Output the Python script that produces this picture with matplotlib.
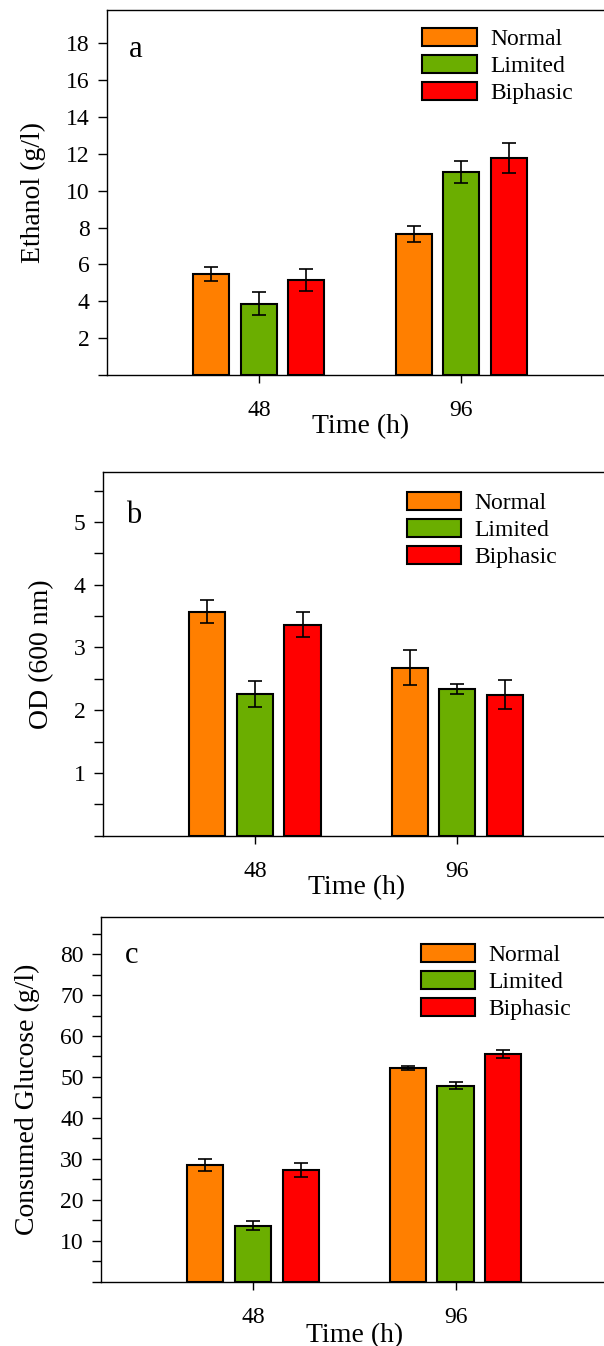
import matplotlib
matplotlib.use('Agg')
import numpy as np
import matplotlib.pyplot as plt
from matplotlib.ticker import MultipleLocator

matplotlib.rcParams.update({'font.family': 'Liberation Serif', 'font.size': 17})

# data
times = ['48', '96']
groups = ['Normal', 'Limited', 'Biphasic']
colors = ['#FF7F00', '#6BAE00', '#FF0000']

ethanol = [[5.50, 7.65], [3.87, 11.02], [5.17, 11.77]]
ethanol_err = [[0.38, 0.43], [0.63, 0.60], [0.60, 0.80]]

od = [[3.57, 2.68], [2.26, 2.34], [3.36, 2.25]]
od_err = [[0.18, 0.28], [0.21, 0.085], [0.20, 0.235]]

glucose = [[28.5, 52.2], [13.7, 47.9], [27.3, 55.6]]
glucose_err = [[1.45, 0.5], [1.0, 0.8], [1.7, 1.0]]

fig = plt.figure(figsize=(6.04, 13.46), dpi=100)

panels = [
    # values, errors, ylabel, letter, ylim, major, minor, axes rect, legend anchor, ylabel x, letter pos, xlabel y
    (ethanol, ethanol_err, 'Ethanol (g/l)', 'a', 19.8, 2, None,
     [0.1767, 0.7214, 0.839, 0.2712], (0.623, 0.951), -0.120, (0.044, 0.871), -0.106),
    (od, od_err, 'OD (600 nm)', 'b', 5.8, 1, 0.5,
     [0.1702, 0.3791, 0.839, 0.2704], (0.600, 0.944), -0.096, (0.046, 0.859), -0.108),
    (glucose, glucose_err, 'Consumed Glucose (g/l)', 'c', 89, 10, 5,
     [0.1670, 0.0478, 0.839, 0.2707], (0.632, 0.926), -0.121, (0.048, 0.875), -0.114),
]

x = np.arange(len(times))
width = 0.178
step = 0.235

for vals, errs, ylab, letter, ytop, major, minor, rect, leg_xy, ylab_x, let_xy, xlab_y in panels:
    ax = fig.add_axes(rect)
    for i, g in enumerate(groups):
        ax.bar(x + (i - 1) * step, vals[i], width, color=colors[i], edgecolor='k',
               linewidth=1.5, label=g, zorder=2)
        ax.errorbar(x + (i - 1) * step, vals[i], yerr=errs[i], fmt='none', ecolor='k',
                    elinewidth=1.2, capsize=4.8, capthick=1.2, zorder=3)
    ax.set_xlim(-0.751, 1.751)
    ax.set_ylim(0, ytop)
    ax.set_xticks(x)
    ax.set_xticklabels(times)
    ticks = np.arange(0, ytop, major)
    ax.set_yticks(ticks)
    ax.set_yticklabels([''] + ['%g' % t for t in ticks[1:]])
    if minor:
        ax.yaxis.set_minor_locator(MultipleLocator(minor))
        ax.tick_params(axis='y', which='minor', direction='out', length=6.3, width=1.0)
    ax.tick_params(axis='y', which='major', direction='out', length=6.3, width=1.0, pad=6)
    ax.tick_params(axis='x', direction='out', length=6, width=1.0, pad=12)
    for s in ax.spines.values():
        s.set_linewidth(1.0)
    ax.set_ylabel(ylab, fontsize=20)
    ax.yaxis.set_label_coords(ylab_x, 0.5)
    ax.set_xlabel('Time (h)', fontsize=20, va='top')
    ax.xaxis.set_label_coords(0.5, xlab_y)
    ax.text(let_xy[0], let_xy[1], letter, transform=ax.transAxes, fontsize=22, va='baseline')
    ax.legend(loc='upper left', bbox_to_anchor=leg_xy, frameon=False, borderpad=0,
              borderaxespad=0, handlelength=2.3, handleheight=0.8, handletextpad=0.56,
              labelspacing=0.2, fontsize=17)

plt.savefig('out.png', dpi=100)
